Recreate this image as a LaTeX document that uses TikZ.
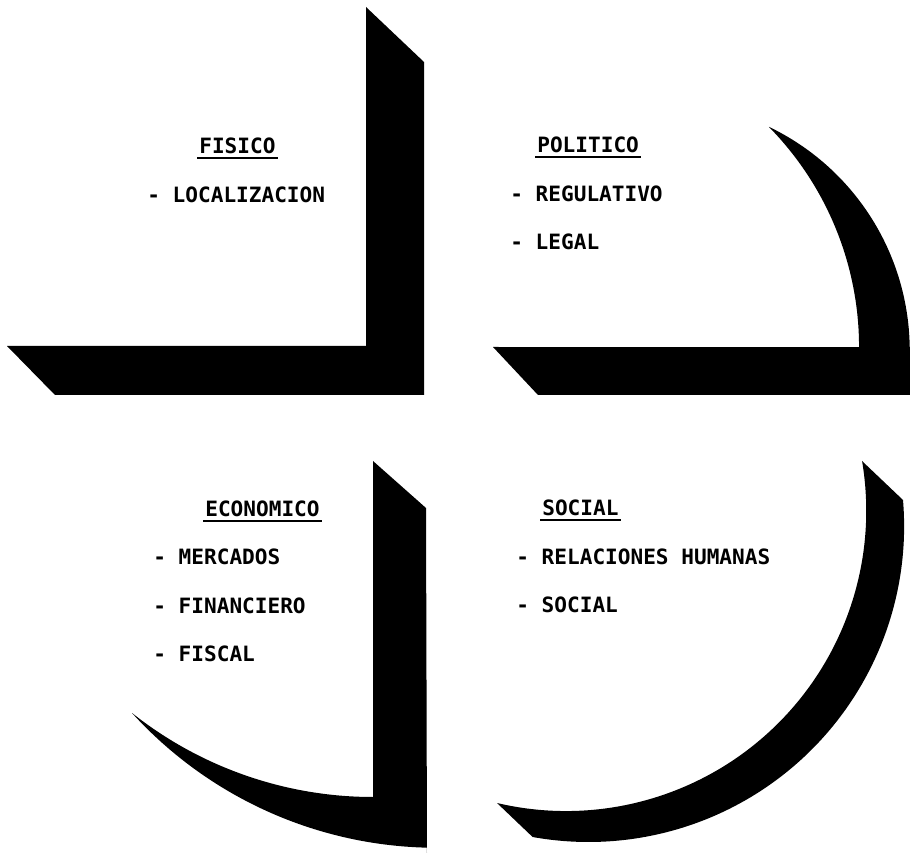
\documentclass[tikz,border=0pt]{standalone}
\usepackage{fontspec}
\setmonofont{DejaVu Sans Mono}
\usetikzlibrary{calc}
\definecolor{qdink}{RGB}{0,0,0}
\tikzset{
  qdshade/.style={fill=qdink, draw=none},
  qdtext/.style={
    anchor=base west, inner sep=0pt, text=qdink,
    font=\ttfamily\bfseries\fontsize{12}{14}\selectfont
  },
  qdhead/.style={qdtext},
  qditem/.style={qdtext},
  qdline/.style={draw=qdink, line width=0.45mm}
}

\begin{document}
\begin{tikzpicture}[x=0.2mm,y=0.2mm]
  \useasboundingbox (0,0) rectangle (910,852);
  \clip (0,0) rectangle (910,852);
  % shadows of the four quadrants
  \fill[qdshade] (366,845) -- (424,790) -- (424,457) -- (55,457) -- (7,506) -- (366,506) -- cycle;
  \fill[qdshade] (769,725) arc[start angle=44.5, end angle=0, radius=314] -- (493,505) -- (538,457)
    -- (912,457) -- (912,505) -- (909.7,505) arc[start angle=0.8, end angle=64.4, radius=248] -- cycle;
  \fill[qdshade] (132,139) arc[start angle=222.3, end angle=268.6, radius=412.2] -- (427,-2)
    -- (426,344) -- (373,391) -- (373,55) arc[start angle=270, end angle=231.6, radius=387.7] -- cycle;
  \fill[qdshade] (862,391) -- (903,352) arc[start angle=4.8, end angle=-100.2, radius=315.6]
    -- (497,49) arc[start angle=-103.3, end angle=9.5, radius=300.2] -- cycle;

  % fisico
  \node[qdhead] (fisico) at (199,698) {FISICO};
  \node[qditem] (fisicoA) at (147,649) {- LOCALIZACION};
  % politico
  \node[qdhead] (politico) at (537,699) {POLITICO};
  \node[qditem] (politicoA) at (510,650) {- REGULATIVO};
  \node[qditem] (politicoB) at (510,602) {- LEGAL};
  % economico
  \node[qdhead] (economico) at (205,335) {ECONOMICO};
  \node[qditem] (economicoA) at (153,288) {- MERCADOS};
  \node[qditem] (economicoB) at (153,239) {- FINANCIERO};
  \node[qditem] (economicoC) at (153,191) {- FISCAL};
  % social
  \node[qdhead] (social) at (542,336) {SOCIAL};
  \node[qditem] (socialA) at (516,288) {- RELACIONES HUMANAS};
  \node[qditem] (socialB) at (516,240) {- SOCIAL};

  \foreach \n in {fisico,politico,economico,social}
    \draw[qdline] ($(\n.base west)+(-2,-4)$) -- ($(\n.base east)+(2,-4)$);
\end{tikzpicture}
\end{document}
